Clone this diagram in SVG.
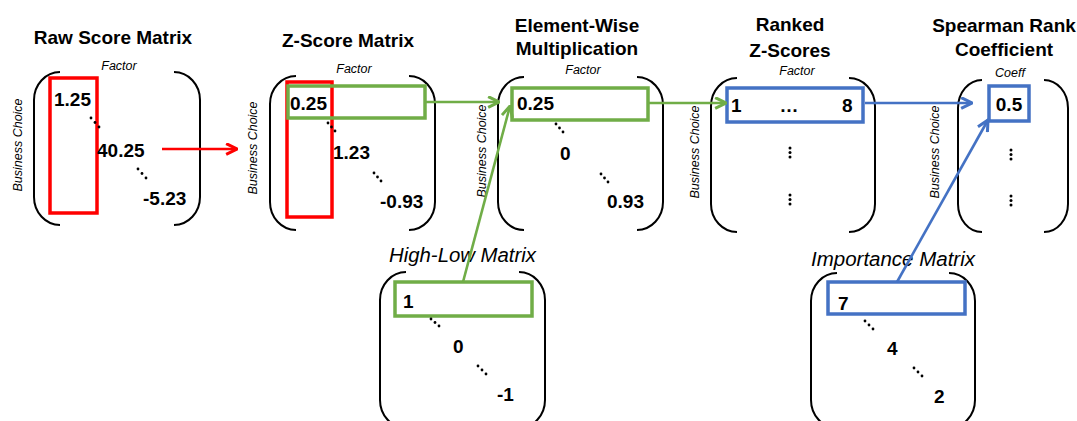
<svg xmlns="http://www.w3.org/2000/svg" width="1077" height="421" viewBox="0 0 1077 421">
<style>
.title{font-family:"Liberation Sans",Arial,sans-serif;font-weight:bold;font-size:19px;fill:#000;text-anchor:middle}
.num{font-family:"Liberation Sans",Arial,sans-serif;font-weight:bold;font-size:19px;fill:#000}
.ax{font-family:"Liberation Sans",Arial,sans-serif;font-style:italic;font-size:12.5px;fill:#000;text-anchor:middle}
.big{font-family:"Liberation Sans",Arial,sans-serif;font-style:italic;font-size:20px;fill:#000}
.br{fill:none;stroke:#000;stroke-width:2}
.red{fill:none;stroke:#FF0000;stroke-width:3.5}
.grn{fill:none;stroke:#70AD47;stroke-width:3.5}
.blu{fill:none;stroke:#4472C4;stroke-width:3.5}
.dot{fill:#000}
</style>
<defs>
<marker id="arR" viewBox="0 0 12 12" refX="11" refY="6" markerWidth="13" markerHeight="13" markerUnits="userSpaceOnUse" orient="auto"><path d="M1,1 L11,6 L1,11" fill="none" stroke="#FF0000" stroke-width="2.8"/></marker>
<marker id="arG" viewBox="0 0 12 12" refX="11" refY="6" markerWidth="13" markerHeight="13" markerUnits="userSpaceOnUse" orient="auto"><path d="M1,1 L11,6 L1,11" fill="none" stroke="#70AD47" stroke-width="2.8"/></marker>
<marker id="arB" viewBox="0 0 12 12" refX="11" refY="6" markerWidth="13" markerHeight="13" markerUnits="userSpaceOnUse" orient="auto"><path d="M1,1 L11,6 L1,11" fill="none" stroke="#4472C4" stroke-width="2.8"/></marker>
</defs>

<g id="raw">
<text class="title" x="113" y="44">Raw Score Matrix</text>
<text class="ax" x="119" y="70">Factor</text>
<text class="ax" transform="translate(22,145) rotate(-90)">Business Choice</text>
<path class="br" d="M60,72 A26 28 0 0 0 34,100 V197 A26 28 0 0 0 60,225"/>
<path class="br" d="M174,72 A26 28 0 0 1 200,100 V197 A26 28 0 0 1 174,225"/>
<rect class="red" x="50" y="78" width="47" height="135"/>
<text class="num" x="54" y="106">1.25</text>
<text class="num" x="97" y="157">40.25</text>
<text class="num" x="143" y="205">-5.23</text>
<circle class="dot" cx="91" cy="118" r="1.4"/><circle class="dot" cx="95" cy="122.5" r="1.4"/><circle class="dot" cx="99" cy="127" r="1.4"/>
<circle class="dot" cx="138" cy="169" r="1.4"/><circle class="dot" cx="142" cy="173.5" r="1.4"/><circle class="dot" cx="146" cy="178" r="1.4"/>
</g>

<g id="zscore">
<text class="title" x="348" y="47">Z-Score Matrix</text>
<text class="ax" x="354" y="73">Factor</text>
<text class="ax" transform="translate(257,148) rotate(-90)">Business Choice</text>
<path class="br" d="M296,76 A26 28 0 0 0 270,104 V202 A26 28 0 0 0 296,230"/>
<path class="br" d="M409,76 A26 28 0 0 1 435,104 V202 A26 28 0 0 1 409,230"/>
<rect class="red" x="287" y="82" width="45" height="135"/>
<rect class="grn" x="288" y="86" width="137" height="32"/>
<text class="num" x="290" y="110">0.25</text>
<text class="num" x="333" y="159">1.23</text>
<text class="num" x="380" y="208">-0.93</text>
<circle class="dot" cx="328" cy="123" r="1.4"/><circle class="dot" cx="331.5" cy="127" r="1.4"/><circle class="dot" cx="335" cy="131" r="1.4"/>
<circle class="dot" cx="374" cy="173" r="1.4"/><circle class="dot" cx="377.5" cy="177" r="1.4"/><circle class="dot" cx="381" cy="181" r="1.4"/>
</g>

<g id="elementwise">
<text class="title" x="577" y="32">Element-Wise</text>
<text class="title" x="577" y="55">Multiplication</text>
<text class="ax" x="583" y="74">Factor</text>
<text class="ax" transform="translate(486,151) rotate(-90)">Business Choice</text>
<path class="br" d="M524,77 A26 28 0 0 0 498,105 V202 A26 28 0 0 0 524,230"/>
<path class="br" d="M637,77 A26 28 0 0 1 663,105 V202 A26 28 0 0 1 637,230"/>
<rect class="grn" x="512" y="88" width="136" height="32"/>
<text class="num" x="517" y="110">0.25</text>
<text class="num" x="560" y="160">0</text>
<text class="num" x="607" y="208">0.93</text>
<circle class="dot" cx="556" cy="124" r="1.4"/><circle class="dot" cx="559.5" cy="128" r="1.4"/><circle class="dot" cx="563" cy="132" r="1.4"/>
<circle class="dot" cx="601" cy="174" r="1.4"/><circle class="dot" cx="604.5" cy="178" r="1.4"/><circle class="dot" cx="608" cy="182" r="1.4"/>
</g>

<g id="ranked">
<text class="title" x="790" y="31">Ranked</text>
<text class="title" x="790" y="57">Z-Scores</text>
<text class="ax" x="797" y="75">Factor</text>
<text class="ax" transform="translate(699,152) rotate(-90)">Business Choice</text>
<path class="br" d="M737,78 A26 28 0 0 0 711,106 V204 A26 28 0 0 0 737,232"/>
<path class="br" d="M849,78 A26 28 0 0 1 875,106 V204 A26 28 0 0 1 849,232"/>
<rect class="blu" x="727" y="88" width="136" height="34"/>
<text class="num" x="731" y="112">1</text>
<text class="num" x="789" y="112" text-anchor="middle">…</text>
<text class="num" x="842" y="112">8</text>
<circle class="dot" cx="790" cy="148" r="1.5"/><circle class="dot" cx="790" cy="152.5" r="1.5"/><circle class="dot" cx="790" cy="157" r="1.5"/>
<circle class="dot" cx="790" cy="195" r="1.5"/><circle class="dot" cx="790" cy="199.5" r="1.5"/><circle class="dot" cx="790" cy="204" r="1.5"/>
</g>

<g id="spearman">
<text class="title" x="1004" y="32">Spearman Rank</text>
<text class="title" x="1004" y="56">Coefficient</text>
<text class="ax" x="1010" y="77">Coeff</text>
<text class="ax" transform="translate(939,152) rotate(-90)">Business Choice</text>
<path class="br" d="M982,80 A24 28 0 0 0 958,108 V204 A24 28 0 0 0 982,232"/>
<path class="br" d="M1044,80 A24 28 0 0 1 1068,108 V204 A24 28 0 0 1 1044,232"/>
<rect class="blu" x="989" y="86" width="40" height="35"/>
<text class="num" x="1009" y="111" text-anchor="middle">0.5</text>
<circle class="dot" cx="1011" cy="150" r="1.5"/><circle class="dot" cx="1011" cy="154.5" r="1.5"/><circle class="dot" cx="1011" cy="159" r="1.5"/>
<circle class="dot" cx="1011" cy="196" r="1.5"/><circle class="dot" cx="1011" cy="200.5" r="1.5"/><circle class="dot" cx="1011" cy="205" r="1.5"/>
</g>

<g id="highlow">
<text class="big" x="389" y="262" textLength="147" lengthAdjust="spacingAndGlyphs">High-Low Matrix</text>
<path class="br" d="M406,272 A26 28 0 0 0 380,300 V400 A26 28 0 0 0 406,428"/>
<path class="br" d="M519,272 A26 28 0 0 1 545,300 V400 A26 28 0 0 1 519,428"/>
<rect class="grn" x="395" y="282" width="137" height="34"/>
<text class="num" x="403" y="308">1</text>
<text class="num" x="453" y="353">0</text>
<text class="num" x="497" y="401">-1</text>
<circle class="dot" cx="431" cy="319" r="1.4"/><circle class="dot" cx="435" cy="322.5" r="1.4"/><circle class="dot" cx="439" cy="326" r="1.4"/>
<circle class="dot" cx="478" cy="366" r="1.4"/><circle class="dot" cx="482" cy="370" r="1.4"/><circle class="dot" cx="486" cy="374" r="1.4"/>
</g>

<g id="importance">
<text class="big" x="811" y="266" textLength="164" lengthAdjust="spacingAndGlyphs">Importance Matrix</text>
<path class="br" d="M837,273 A26 28 0 0 0 811,301 V400 A26 28 0 0 0 837,428"/>
<path class="br" d="M949,273 A26 28 0 0 1 975,301 V400 A26 28 0 0 1 949,428"/>
<rect class="blu" x="828" y="282" width="137" height="32"/>
<text class="num" x="838" y="310">7</text>
<text class="num" x="887" y="355">4</text>
<text class="num" x="934" y="403">2</text>
<circle class="dot" cx="865" cy="321" r="1.4"/><circle class="dot" cx="869" cy="325" r="1.4"/><circle class="dot" cx="873" cy="329" r="1.4"/>
<circle class="dot" cx="914" cy="368" r="1.4"/><circle class="dot" cx="918" cy="372" r="1.4"/><circle class="dot" cx="922" cy="376" r="1.4"/>
</g>

<g id="connectors" fill="none" stroke-width="2.6">
<line x1="162" y1="149" x2="237" y2="149" stroke="#FF0000" marker-end="url(#arR)"/>
<line x1="425" y1="102" x2="499" y2="102" stroke="#70AD47" marker-end="url(#arG)"/>
<line x1="463" y1="282" x2="510" y2="106" stroke="#70AD47" marker-end="url(#arG)"/>
<line x1="648" y1="103" x2="726" y2="103" stroke="#70AD47" marker-end="url(#arG)"/>
<line x1="865" y1="103" x2="972" y2="103" stroke="#4472C4" marker-end="url(#arB)"/>
<line x1="897" y1="282" x2="988" y2="120" stroke="#4472C4" marker-end="url(#arB)"/>
</g>
</svg>
